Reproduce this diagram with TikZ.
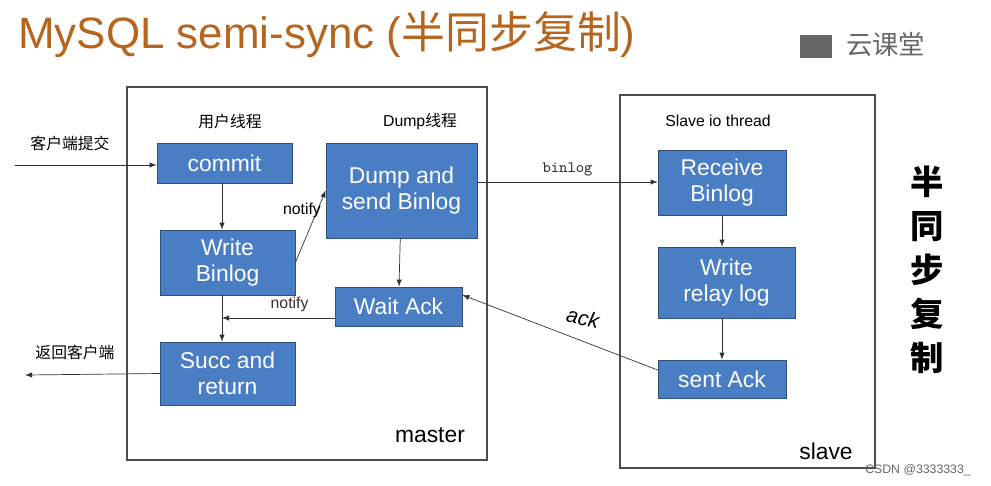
\documentclass[tikz,border=0pt]{standalone}
\usepackage{fontspec}
\setmainfont{Liberation Sans}
\newfontfamily\cjk{Noto Sans CJK SC}
\usetikzlibrary{positioning}
\definecolor{boxblue}{HTML}{4A7EC4}
\definecolor{boxedge}{HTML}{2F4F7F}
\definecolor{titlebrown}{HTML}{B5651D}
\tikzset{
  blk/.style={draw=boxedge, fill=boxblue, text=white, font=\fontsize{13}{15}\selectfont, align=center, inner sep=0pt},
  frame/.style={draw=black!70, thick},
  lbl/.style={font=\fontsize{9}{10}\selectfont},
  arr/.style={->, >=latex, black!80}
}
\begin{document}
\begin{tikzpicture}[x=0.02cm, y=-0.02cm]
  \useasboundingbox (0,0) rectangle (991,485);
  % title and logo
  \node[anchor=west, text=titlebrown, font=\fontsize{25}{28}\selectfont] (title) at (12,35) {MySQL semi-sync ({\cjk 半同步复制})};
  \node[anchor=west, text=black!60, font=\cjk\fontsize{15}{17}\selectfont] (logo) at (840,45) {云课堂};
  \fill[black!60] (800,35) rectangle (832,58);
  % frames
  \draw[frame] (127,87) rectangle (487,460);
  \draw[frame] (620,95) rectangle (875,468);
  \node[font=\fontsize{13}{15}\selectfont] (mlabel) at (430,435) {master};
  \node[font=\fontsize{13}{15}\selectfont] (slabel) at (826,451) {slave};
  \node[lbl, font=\cjk\fontsize{9}{10}\selectfont] (uthread) at (230,121) {用户线程};
  \node[lbl] (dthread) at (420,121) {Dump{\cjk 线程}};
  \node[lbl] (sthread) at (718,121) {Slave io thread};
  % master blocks
  \node[blk, minimum width=2.7cm, minimum height=0.8cm] (commit) at (224.5,163) {commit};
  \node[blk, minimum width=3.02cm, minimum height=1.9cm] (dump) at (401.5,190.5) {Dump and\\send Binlog};
  \node[blk, minimum width=2.7cm, minimum height=1.3cm] (wbin) at (227.5,262.5) {Write\\Binlog};
  \node[blk, minimum width=2.54cm, minimum height=0.78cm] (wack) at (398.5,306.5) {Wait Ack};
  \node[blk, minimum width=2.7cm, minimum height=1.26cm] (succ) at (227.5,373.5) {Succ and\\return};
  % slave blocks
  \node[blk, minimum width=2.56cm, minimum height=1.3cm] (recv) at (722,182.5) {Receive\\Binlog};
  \node[blk, minimum width=2.74cm, minimum height=1.42cm] (relay) at (726.5,282.5) {Write\\relay log};
  \node[blk, minimum width=2.56cm, minimum height=0.76cm] (sack) at (722,379) {sent Ack};
  % side text
  \node[font=\cjk\bfseries\fontsize{19}{25}\selectfont, align=center] (side) at (927,270) {半\\同\\步\\复\\制};
  \node[font=\fontsize{7}{8}\selectfont, text=black!60] (csdn) at (918,470) {CSDN @3333333\_};
  % connectors
  \coordinate (cin) at (15,165);
  \coordinate (cout) at (25,375);
  \coordinate (jn) at (222,318);
  \node[lbl, font=\cjk\fontsize{9}{10}\selectfont] (ctext) at (70,143) {客户端提交};
  \node[lbl, font=\cjk\fontsize{9}{10}\selectfont] (rtext) at (75,352) {返回客户端};
  \draw[arr] (cin) -- (commit.west |- cin);
  \draw[arr] (commit.south -| 222,0) -- (wbin.north -| 222,0);
  \draw[arr] (wbin.east) -- (dump.west);
  \node[lbl] (n1) at (302,210) {notify};
  \draw[arr] (dump) -- (wack);
  \draw[arr] (wack.west |- jn) -- node[lbl, above, pos=0.4] {notify} (jn);
  \draw[arr] (wbin.south -| jn) -- (succ.north -| jn);
  \draw[arr] (succ.west) -- (cout);
  \draw[arr] (dump.east |- 0,182) -- node[above, font=\ttfamily\fontsize{9}{10}\selectfont] {binlog} (recv.west |- 0,182);
  \draw[arr] (recv.south -| 722,0) -- (relay.north -| 722,0);
  \draw[arr] (relay.south -| 722,0) -- (sack.north);
  \draw[arr] (sack.west |- 0,370) -- (wack.east |- 0,295);
  \node[font=\itshape\fontsize{12}{14}\selectfont, rotate=-12] (acklbl) at (583,318) {ack};
\end{tikzpicture}
\end{document}
